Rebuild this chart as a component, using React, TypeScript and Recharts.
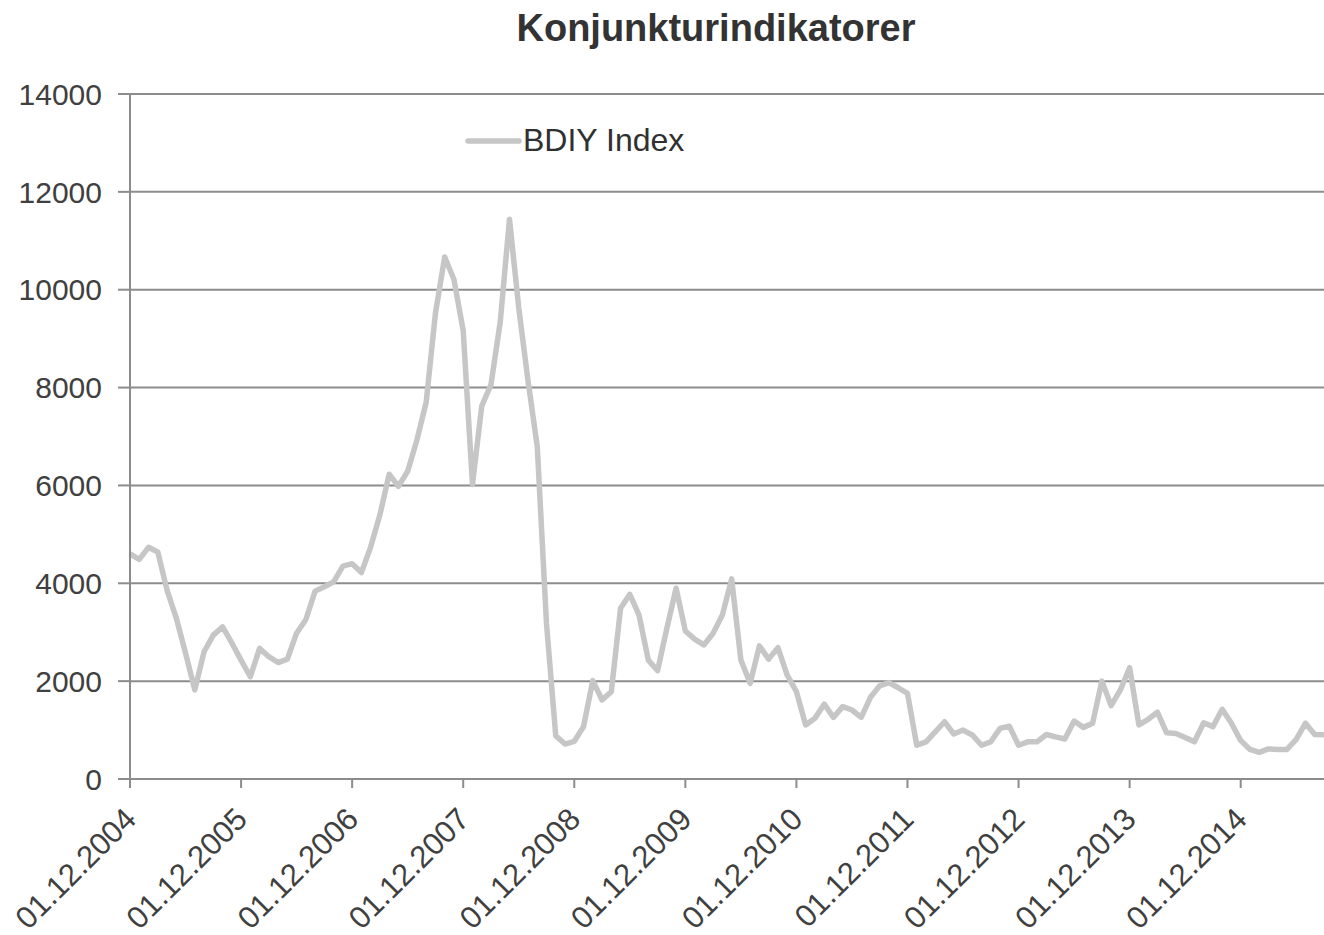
import React from "react";
import { LineChart, Line, XAxis, YAxis, CartesianGrid } from "recharts";

const seriesName = "BDIY Index";
const chartTitle = "Konjunkturindikatorer";

// Month index 0 = Dec 2004, monthly
const bdiy: number[] = [
  4600, 4490, 4735, 4640, 3860, 3290, 2575, 1820, 2600, 2940, 3110, 2780,
  2430, 2090, 2670, 2500, 2380, 2450, 2980, 3260, 3840, 3930, 4030, 4350,
  4400, 4220, 4740, 5400, 6230, 5980, 6290, 6930, 7700, 9520, 10670, 10210,
  9160, 6020, 7620, 8060, 9340, 11440, 9630, 8140, 6800, 3170, 880, 715,
  770, 1070, 2010, 1615, 1785, 3490, 3775, 3350, 2430, 2215, 3080, 3900,
  3025, 2860, 2740, 2980, 3350, 4090, 2430, 1955, 2720, 2450, 2685, 2125,
  1785, 1105, 1240, 1530, 1260, 1480, 1410, 1260, 1670, 1905, 1970, 1865,
  1750, 690, 760, 965, 1170, 920, 1000, 900, 690, 760, 1035, 1080,
  690, 760, 760, 910, 860, 818, 1185, 1055, 1140, 2000, 1500, 1820,
  2275, 1105, 1220, 1365, 945, 930, 850, 760, 1150, 1070, 1425, 1140,
  785, 605, 545, 615, 605, 605, 810, 1140, 910, 905,
];

const xTickPositions = [0, 12, 24, 36, 48, 60, 72, 84, 96, 108, 120];
const xTickLabels = [
  "01.12.2004", "01.12.2005", "01.12.2006", "01.12.2007", "01.12.2008",
  "01.12.2009", "01.12.2010", "01.12.2011", "01.12.2012", "01.12.2013",
  "01.12.2014",
];
const yTicks = [0, 2000, 4000, 6000, 8000, 10000, 12000, 14000];

const data = bdiy.map((v, i) => ({ m: i, bdiy: v }));

const FONT = "'Liberation Sans', Arial, sans-serif";
const GRID = "#8c8c8c";
const LINE = "#c6c6c6";
const TEXT = "#404040";

const XTick = (props: any) => {
  const { x, y, payload } = props;
  const idx = xTickPositions.indexOf(payload.value);
  const tx = x + 8;
  const ty = y + 31;
  return (
    <text
      x={tx}
      y={ty}
      textAnchor="end"
      fontSize={31}
      fontFamily={FONT}
      fill={TEXT}
      transform={`rotate(-45, ${tx}, ${ty})`}
    >
      {idx >= 0 ? xTickLabels[idx] : ""}
    </text>
  );
};

export default function App() {
  return (
    <div style={{ position: "absolute", left: 0, top: 0, width: 1324, height: 935, background: "#fff" }}>
      <div
        style={{
          position: "absolute",
          left: 0,
          width: 1432,
          top: 7,
          textAlign: "center",
          fontFamily: FONT,
          fontWeight: "bold",
          fontSize: 38,
          color: "#333333",
        }}
      >
        {chartTitle}
      </div>
      <div
        style={{
          position: "absolute",
          left: 464,
          top: 122,
          display: "flex",
          alignItems: "center",
          fontFamily: FONT,
          zIndex: 2,
        }}
      >
        <svg width={58} height={10}>
          <line x1={4} y1={5} x2={55} y2={5} stroke={LINE} strokeWidth={5.5} strokeLinecap="round" />
        </svg>
        <span style={{ fontSize: 32, color: "#303030", marginLeft: 1 }}>{seriesName}</span>
      </div>
      <LineChart
        width={1324}
        height={935}
        data={data}
        margin={{ top: 94, right: 0, bottom: 0, left: 0 }}
      >
        <CartesianGrid vertical={false} stroke={GRID} strokeWidth={2} />
        <XAxis
          dataKey="m"
          type="number"
          domain={[0, 129]}
          ticks={xTickPositions}
          interval={0}
          height={156}
          tickSize={9}
          tick={<XTick />}
          axisLine={{ stroke: GRID, strokeWidth: 2 }}
          tickLine={{ stroke: GRID, strokeWidth: 2 }}
        />
        <YAxis
          domain={[0, 14000]}
          ticks={yTicks}
          width={130}
          tickSize={12}
          tickMargin={16}
          axisLine={{ stroke: GRID, strokeWidth: 2 }}
          tickLine={{ stroke: GRID, strokeWidth: 2 }}
          tick={{ fontSize: 30, fontFamily: FONT, fill: TEXT }}
        />
        <Line
          type="linear"
          dataKey="bdiy"
          name={seriesName}
          stroke={LINE}
          strokeWidth={5.5}
          dot={false}
          isAnimationActive={false}
          strokeLinejoin="round"
        />
      </LineChart>
    </div>
  );
}
